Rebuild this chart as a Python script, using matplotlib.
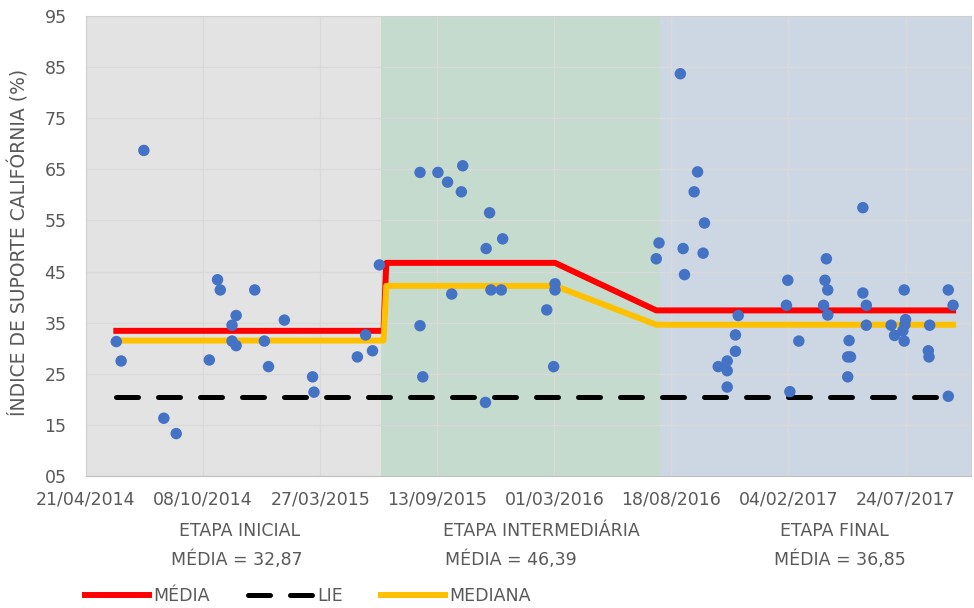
import pandas as pd
import matplotlib
matplotlib.use('Agg')
import matplotlib.pyplot as plt
import matplotlib.dates as mdates

# Pontos de ensaio (data, ISC %)
point_dates = [
    '2014-06-04', '2014-06-11', '2014-07-14', '2014-08-12', '2014-08-30',
    '2014-10-17', '2014-10-29', '2014-11-02', '2014-11-19', '2014-11-19',
    '2014-11-25', '2014-11-25', '2014-12-22', '2015-01-05', '2015-01-11',
    '2015-02-03', '2015-03-16', '2015-03-18', '2015-05-20', '2015-06-01',
    '2015-06-11', '2015-06-21',
    '2015-08-19', '2015-08-19', '2015-08-23', '2015-09-14', '2015-09-28',
    '2015-10-04', '2015-10-18', '2015-10-20', '2015-11-22', '2015-11-23',
    '2015-11-28', '2015-11-30', '2015-12-15', '2015-12-17', '2016-02-19',
    '2016-02-29', '2016-03-02', '2016-03-02',
    '2016-07-27', '2016-07-31', '2016-08-31', '2016-09-04', '2016-09-06',
    '2016-09-20', '2016-09-25', '2016-10-03', '2016-10-05', '2016-10-25',
    '2016-11-07', '2016-11-07', '2016-11-07', '2016-11-19', '2016-11-19',
    '2016-11-23', '2017-02-01', '2017-02-03', '2017-02-06', '2017-02-19',
    '2017-03-27', '2017-03-29', '2017-03-31', '2017-04-02', '2017-04-02',
    '2017-05-01', '2017-05-01', '2017-05-03', '2017-05-05', '2017-05-23',
    '2017-05-23', '2017-05-28', '2017-05-28', '2017-07-03', '2017-07-08',
    '2017-07-20', '2017-07-22', '2017-07-22', '2017-07-23', '2017-07-24',
    '2017-08-26', '2017-08-27', '2017-08-28', '2017-09-24', '2017-09-24',
    '2017-10-01',
]
point_values = [
    31.3, 27.5, 68.7, 16.3, 13.3,
    27.7, 43.4, 41.4, 34.5, 31.4,
    36.4, 30.5, 41.4, 31.4, 26.4,
    35.5, 24.4, 21.4, 28.3, 32.6,
    29.5, 46.3,
    64.4, 34.4, 24.4, 64.4, 62.5,
    40.6, 60.6, 65.7, 19.4, 49.5,
    56.5, 41.4, 41.4, 51.4, 37.5,
    26.4, 42.6, 41.4,
    47.5, 50.6, 83.7, 49.5, 44.4,
    60.6, 64.5, 48.6, 54.5, 26.4,
    27.5, 25.6, 22.4, 32.6, 29.4,
    36.4, 38.4, 43.3, 21.5, 31.4,
    38.4, 43.3, 47.5, 41.4, 36.5,
    28.3, 24.4, 31.5, 28.3, 57.5,
    40.8, 38.4, 34.5, 34.5, 32.5,
    33.4, 31.4, 41.4, 34.6, 35.6,
    29.5, 28.3, 34.5, 41.4, 20.6,
    38.4,
]

# Linhas de média e mediana por etapa
line_dates = ['2014-06-04', '2015-06-27', '2015-07-01', '2016-03-02', '2016-07-27', '2017-10-01']
media_line = [33.4, 33.4, 46.7, 46.7, 37.4, 37.4]
mediana_line = [31.5, 31.5, 42.2, 42.2, 34.6, 34.6]
lie_dates = ['2014-06-04', '2017-10-01']
lie_values = [20.4, 20.4]

# Etapas
phase_edges = ['2014-04-21', '2015-06-24', '2016-08-01', '2017-10-27']
phase_colors = ['#E3E3E3', '#C5DBCD', '#CDD7E3']
phase_names = ['ETAPA INICIAL', 'ETAPA INTERMEDIÁRIA', 'ETAPA FINAL']
phase_means = ['MÉDIA = 32,87', 'MÉDIA = 46,39', 'MÉDIA = 36,85']

to_dt = pd.to_datetime
text_color = '#595959'

plt.rcParams['font.family'] = ['DejaVu Sans']

fig = plt.figure(figsize=(9.74, 6.08), dpi=100)
ax = fig.add_axes([86 / 974, 1 - 476 / 608, 885 / 974, 460 / 608])

for i, color in enumerate(phase_colors):
    ax.axvspan(to_dt(phase_edges[i]), to_dt(phase_edges[i + 1]), color=color, lw=0, zorder=0)

ax.plot(to_dt(line_dates), media_line, color='#FF0000', lw=4.3, zorder=2, label='MÉDIA')
ax.plot(to_dt(lie_dates), lie_values, color='black', lw=3.6, dashes=(4.4, 4),
        dash_capstyle='round', zorder=2, label='LIE')
ax.plot(to_dt(line_dates), mediana_line, color='#FFC000', lw=4.3, zorder=2, label='MEDIANA')
ax.scatter(to_dt(point_dates), point_values, s=68, color='#4472C4', edgecolors='none', zorder=4)

ax.set_xlim(to_dt(phase_edges[0]), to_dt(phase_edges[-1]))
ax.set_ylim(5, 95)
ax.set_xticks(pd.date_range('2014-04-21', periods=8, freq='170D'))
ax.xaxis.set_major_formatter(mdates.DateFormatter('%d/%m/%Y'))
yticks = list(range(5, 96, 10))
ax.set_yticks(yticks)
ax.set_yticklabels([f'{v:02d}' for v in yticks])

ax.set_axisbelow(True)
ax.grid(True, color='#D9D9D9', lw=1)
ax.tick_params(axis='both', length=0, labelsize=12.5, colors=text_color)
ax.tick_params(axis='x', pad=10.5)
ax.tick_params(axis='y', pad=14)
for side in ['top', 'left', 'right']:
    ax.spines[side].set_color('#D0D0D0')
ax.spines['bottom'].set_color('#BFBFBF')

ax.set_ylabel('ÍNDICE DE SUPORTE CALIFÓRNIA (%)', fontsize=13.5, color=text_color)
ax.yaxis.set_label_coords(-0.064, 0.508)

name_x = [240, 541, 834]
mean_x = [237, 511, 840]
for nx, mx, name, mean in zip(name_x, mean_x, phase_names, phase_means):
    fig.text(nx / 974, 1 - 531 / 608, name, ha='center', va='center', fontsize=12.5, color=text_color)
    fig.text(mx / 974, 1 - 560 / 608, mean, ha='center', va='center', fontsize=12.5, color=text_color)

fig.legend(loc='center left', bbox_to_anchor=(85 / 974, 1 - 596 / 608), ncol=3, frameon=False,
           fontsize=12.5, labelcolor=text_color, handlelength=3.7, handletextpad=0.25,
           columnspacing=2.2, borderpad=0, borderaxespad=0)

fig.savefig('out.png', dpi=100)
